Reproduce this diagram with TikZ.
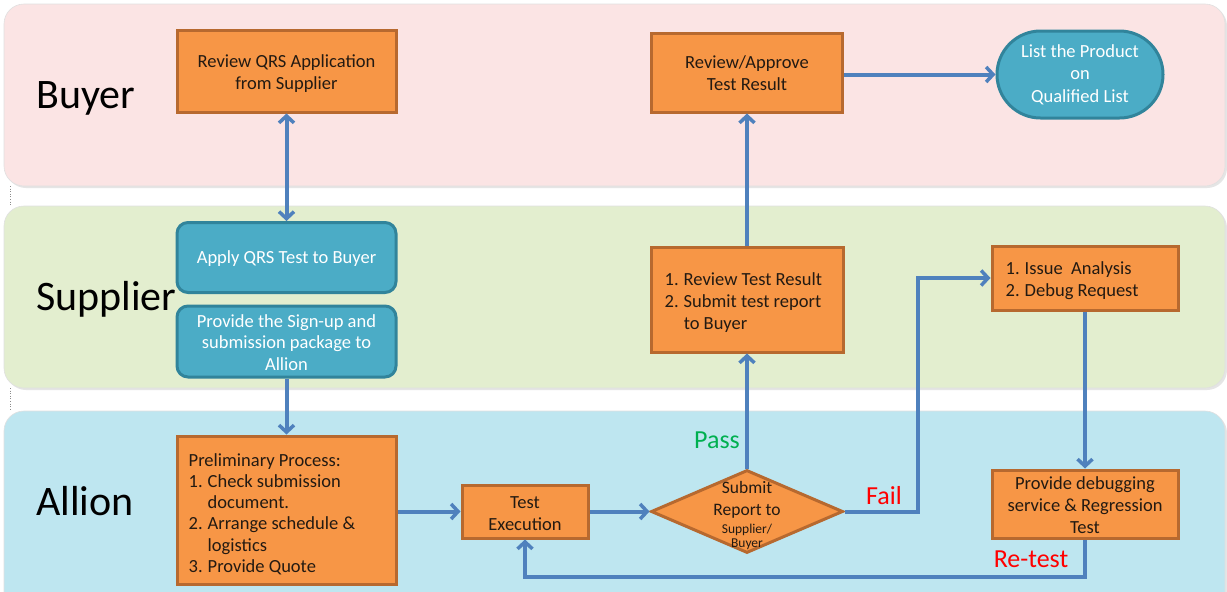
\documentclass[tikz,border=0pt]{standalone}
\usepackage{fontspec}
\setmainfont{Carlito}
\usetikzlibrary{arrows.meta,shapes.geometric,shapes.misc}
\definecolor{orangefill}{HTML}{F79646}
\definecolor{orangeline}{HTML}{B7692F}
\definecolor{tealfill}{HTML}{4BACC6}
\definecolor{tealline}{HTML}{31849B}
\definecolor{flow}{HTML}{4F81BD}
\definecolor{lanepink}{HTML}{FBE4E4}
\definecolor{lanegreen}{HTML}{E3EECF}
\definecolor{laneblue}{HTML}{BEE6F0}
\definecolor{passgreen}{HTML}{00B050}
\definecolor{failred}{HTML}{FF0000}
\definecolor{boxtext}{HTML}{231A12}
\newcommand{\dnc}[2]{\raisebox{-#1pt}[\height][\depth]{\begin{tabular}{@{}c@{}}#2\end{tabular}}}
\tikzset{
  lane/.style={rounded corners=20pt, draw=black!12, line width=0.6pt},
  laneshadow/.style={rounded corners=20pt, fill=black!10},
  lanelabel/.style={anchor=base west, inner sep=0pt, font=\fontsize{42}{48}\selectfont},
  obox/.style={rectangle, fill=orangefill, draw=orangeline, line width=3pt, inner sep=0pt,
    text=boxtext, align=center, font=\fontsize{18.5}{22}\selectfont},
  tbox/.style={rectangle, rounded corners=11pt, fill=tealfill, draw=tealline, line width=3pt, inner sep=0pt,
    text=white, align=center, font=\fontsize{18.5}{22}\selectfont},
  btext/.style={inner sep=0pt, text=boxtext, font=\fontsize{18.5}{22}\selectfont},
  flowarrow/.style={draw=flow, line width=4pt, -{Straight Barb[length=7pt,width=15pt,line width=3.5pt]}},
  cond/.style={inner sep=0pt, font=\fontsize{26}{30}\selectfont}
}
\begin{document}
\begin{tikzpicture}[x=1pt,y=-1pt]
\useasboundingbox (0,0) rectangle (1227,592);
\clip (0,0) rectangle (1227,592);
\fill[white] (0,0) rectangle (1227,592);
% lanes
\fill[laneshadow] (6,6) rectangle (1227,188);
\fill[laneshadow] (6,208) rectangle (1227,390);
\fill[laneshadow] (6,413) rectangle (1227,620);
\draw[lane, fill=lanepink] (4,4) rectangle (1225,186);
\draw[lane, fill=lanegreen] (4,206) rectangle (1225,388);
\draw[lane, fill=laneblue] (4,411) rectangle (1225,620);
\draw[black!45, dotted, line width=0.6pt] (10,186) -- (10,206);
\draw[black!45, dotted, line width=0.6pt] (10,388) -- (10,411);
% lane labels
\node[lanelabel] (lbuyer) at (36,108) {Buyer};
\node[lanelabel] (lsupplier) at (36,310) {Supplier};
\node[lanelabel] (lallion) at (36,515) {Allion};
% boxes
\node[obox, minimum width=219pt, minimum height=82pt] (rqrs) at (286.5,71) {\dnc{3}{Review QRS Application\\from Supplier}};
\node[obox, minimum width=191pt, minimum height=79pt] (rapp) at (747,72.5) {\dnc{3}{Review/Approve\\Test Result}};
\node[rounded rectangle, rounded rectangle arc length=180, fill=tealfill, draw=tealline, line width=3pt,
  inner sep=0pt, minimum width=166pt, minimum height=87pt, text=white, align=center,
  font=\fontsize{18.5}{22.5}\selectfont] (list) at (1080,74.5) {List the Product\\on\\Qualified List};
\node[tbox, minimum width=219pt, minimum height=70pt] (apply) at (286.5,257.5) {\dnc{2}{Apply QRS Test to Buyer}};
\node[tbox, minimum width=219pt, minimum height=71pt, font=\fontsize{18.5}{21.5}\selectfont] (signup) at (286.5,341.5) {\dnc{3}{Provide the Sign-up and\\submission package to\\Allion}};
\node[obox, minimum width=192pt, minimum height=105pt] (rtr) at (747,299.5) {};
\node[btext, anchor=west] (rtrtext) at ([xshift=15pt,yshift=-4pt]rtr.west) {\begin{tabular}{@{}l@{\hspace{5pt}}l@{}}1.&Review Test Result\\2.&Submit test report\\&to Buyer\end{tabular}};
\node[obox, minimum width=186pt, minimum height=64pt] (issue) at (1085,278) {};
\node[btext, anchor=west] (issuetext) at ([xshift=15pt,yshift=-3pt]issue.west) {\begin{tabular}{@{}l@{\hspace{5pt}}l@{}}1.&Issue~ Analysis\\2.&Debug Request\end{tabular}};
\node[obox, minimum width=219pt, minimum height=148pt] (prelim) at (286.5,510) {};
\node[btext, anchor=west, font=\fontsize{18.5}{21.2}\selectfont] (prelimtext) at ([xshift=13pt,yshift=-5pt]prelim.west) {\begin{tabular}{@{}l@{\hspace{5pt}}l@{}}\multicolumn{2}{@{}l@{}}{Preliminary Process:}\\1.&Check submission\\&document.\\2.&Arrange schedule \&\\&logistics\\3.&Provide Quote\end{tabular}};
\node[obox, minimum width=126pt, minimum height=53pt] (testexec) at (525,511.5) {\dnc{4}{Test\\Execution}};
\node[diamond, aspect=2.31, fill=orangefill, draw=orangeline, line width=3pt, inner sep=0pt,
  minimum width=192pt, minimum height=83pt] (diam) at (747,511.5) {};
\node[inner sep=0pt, text=boxtext, anchor=north] (diamtext) at (747,478) {\fontsize{17.5}{22}\selectfont\begin{tabular}{@{}c@{}}Submit\\Report to\\[-4pt]{\fontsize{13.5}{14}\selectfont Supplier/}\\[-8pt]{\fontsize{13.5}{14}\selectfont Buyer}\end{tabular}};
\node[obox, minimum width=186pt, minimum height=68pt] (debug) at (1085,504) {\dnc{3}{Provide debugging\\service \& Regression\\Test}};
% helper coordinates
\coordinate (fx) at (918,0);
\coordinate (ry) at (0,577);
% connectors
\draw[flowarrow, {Straight Barb[length=7pt,width=15pt,line width=3.5pt]}-{Straight Barb[length=7pt,width=15pt,line width=3.5pt]}] (rqrs.south) -- (apply.north);
\draw[flowarrow] (signup.south) -- (prelim.north);
\draw[flowarrow] (prelim.east |- testexec.west) -- (testexec.west);
\draw[flowarrow] (testexec.east) -- (diam.west);
\draw[flowarrow] (diam.north) -- (rtr.south);
\draw[flowarrow] (rtr.north) -- (rapp.south);
\draw[flowarrow] (rapp.east |- list.west) -- (list.west);
\draw[flowarrow] (diam.east) -- (diam.east -| fx) -- (fx |- issue.west) -- (issue.west);
\draw[flowarrow] (issue.south) -- (debug.north);
\draw[flowarrow] (debug.south) -- (debug.south |- ry) -| (testexec.south);
% condition labels
\node[cond, text=passgreen] (pass) at (717,440) {Pass};
\node[cond, text=failred] (fail) at (884,496) {Fail};
\node[cond, text=failred] (retest) at (1031,559) {Re-test};
\end{tikzpicture}
\end{document}
